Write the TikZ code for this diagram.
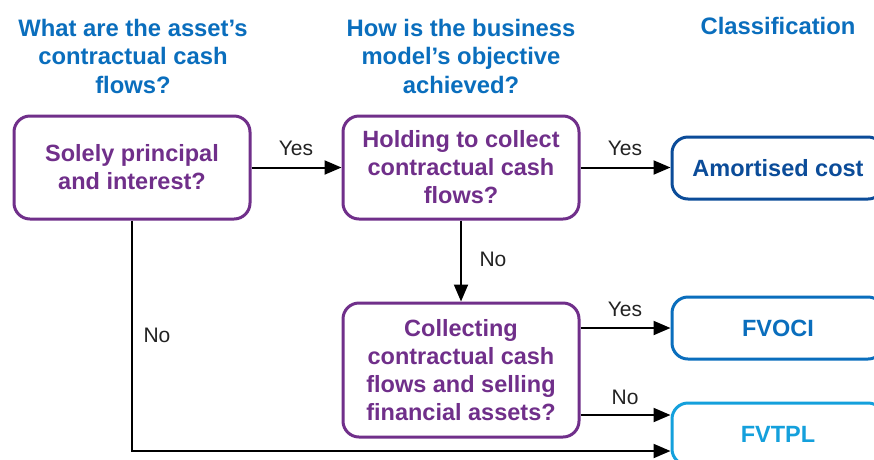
\documentclass[tikz,border=0pt]{standalone}
\usepackage{fontspec}
\setmainfont{Liberation Sans}
\usetikzlibrary{arrows.meta}
\definecolor{hdrblue}{HTML}{0A6EBD}
\definecolor{kpurple}{HTML}{702F8A}
\definecolor{darkblue}{HTML}{0B4C99}
\definecolor{midblue}{HTML}{0A6EBD}
\definecolor{lightblue}{HTML}{14A0DC}
\definecolor{lbl}{HTML}{222222}
\tikzset{
  hdr/.style={text=hdrblue, font=\bfseries\fontsize{23.8}{28.5}\selectfont, align=center, inner sep=0pt},
  qbox/.style={draw=kpurple, line width=3pt, rounded corners=16pt, text=kpurple,
    font=\bfseries\fontsize{23.5}{28}\selectfont, align=center, minimum width=236pt, inner sep=0pt},
  cbox/.style={line width=3pt, rounded corners=16pt, font=\bfseries\fontsize{23.5}{28}\selectfont,
    align=center, minimum width=212pt, minimum height=62pt, inner sep=0pt},
  arr/.style={draw=black, line width=2pt, -{Triangle[length=17pt,width=14pt]}},
  lab/.style={text=lbl, font=\fontsize{21}{24}\selectfont, inner sep=0pt}
}
\begin{document}
\begin{tikzpicture}[x=1pt,y=-1pt]
\useasboundingbox (0,0) rectangle (874,459);
\clip (0,0) rectangle (874,459);
\fill[white] (0,0) rectangle (874,459);
% headers
\node[hdr] (h1) at (133,56) {What are the asset’s\\contractual cash\\flows?};
\node[hdr] (h2) at (461,56) {How is the business\\model’s objective\\achieved?};
\node[hdr, anchor=base] (h3) at (778,34) {Classification};
% question boxes
\node[qbox, minimum height=103pt] (A) at (132,167.5) {Solely principal\\and interest?};
\node[qbox, minimum height=103pt] (B) at (461,167.5) {Holding to collect\\contractual cash\\flows?};
\node[qbox, minimum height=134pt] (C) at (461,370) {Collecting\\contractual cash\\flows and selling\\financial assets?};
% classification boxes
\node[cbox, draw=darkblue, text=darkblue] (AC) at (778,168) {Amortised cost};
\node[cbox, draw=midblue, text=midblue] (FVOCI) at (778,328) {FVOCI};
\node[cbox, draw=lightblue, text=lightblue] (FVTPL) at (778,434) {FVTPL};
% connectors
\draw[arr] (A) -- (B);
\draw[arr] (B.east) -- (B.east -| AC.west);
\draw[arr] (B) -- (C);
\draw[arr] (C.east |- FVOCI.west) -- (FVOCI.west);
\coordinate (noC) at (C.east |- 0,415);
\draw[arr] (noC) -- (noC -| FVTPL.west);
\coordinate (corner) at (A.south |- 0,451);
\draw[arr] (A.south) -- (corner) -- (corner -| FVTPL.west);
% labels
\node[lab] (l1) at (296,148) {Yes};
\node[lab] (l2) at (625,148) {Yes};
\node[lab] (l3) at (493,259) {No};
\node[lab] (l4) at (157,335) {No};
\node[lab] (l5) at (625,309) {Yes};
\node[lab] (l6) at (625,397) {No};
\end{tikzpicture}
\end{document}
